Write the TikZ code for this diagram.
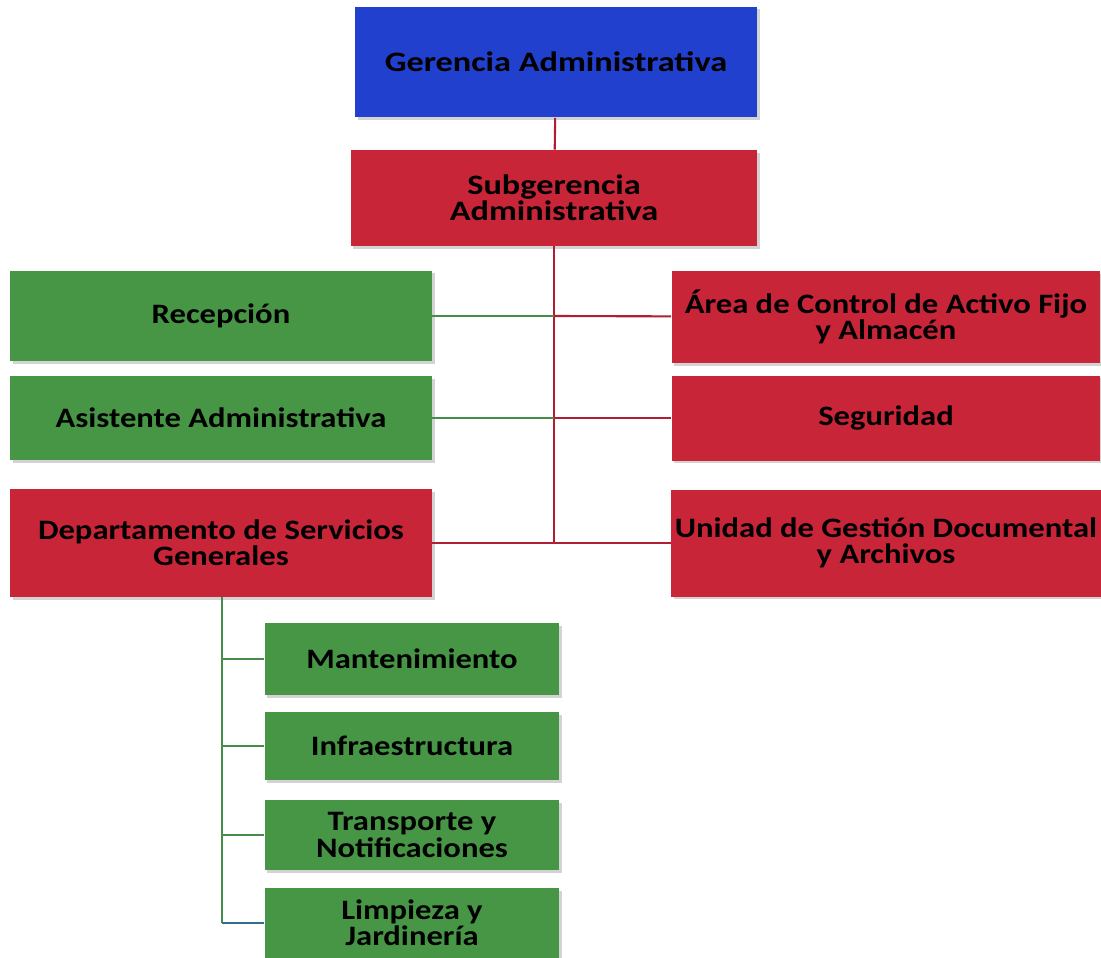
\documentclass[tikz,border=0pt]{standalone}
\usepackage{fontspec}
\setmainfont{Carlito}
\usepackage{tikz}
\usetikzlibrary{shadows}
\definecolor{gerblue}{RGB}{32,64,205}
\definecolor{subred}{RGB}{200,38,56}
\definecolor{boxgreen}{RGB}{70,150,70}
\definecolor{linered}{RGB}{175,30,50}
\definecolor{linegreen}{RGB}{70,140,75}
\definecolor{lineteal}{RGB}{50,110,140}
\tikzset{box/.style = {shape=rectangle, draw=none, inner sep=2pt, align=center,
    font=\fontsize{16}{15}\selectfont\bfseries\addfontfeature{FakeStretch=1.16},
    drop shadow={opacity=0.35, shadow xshift=1.5pt, shadow yshift=-1.5pt}}}
\tikzset{wide/.style = {font=\fontsize{16}{15}\selectfont\bfseries\addfontfeature{FakeStretch=1.22}}}
\tikzset{edge/.style = {line width=1.2pt}}
\begin{document}
\begin{tikzpicture}[x=0.02cm, y=-0.02cm]
                    \useasboundingbox (0,0) rectangle (1101,957);
                    \node[box, wide, fill=gerblue, minimum width=8.04cm, minimum height=2.22cm] (ger) at (556,62) {Gerencia Administrativa};
                    \node[box, wide, fill=subred, minimum width=8.14cm, minimum height=1.92cm] (sub) at (554,198) {Subgerencia\\Administrativa};

                    \node[box, fill=boxgreen, minimum width=8.44cm, minimum height=1.82cm] (rec) at (221,316) {Recepción};
                    \node[box, fill=boxgreen, minimum width=8.44cm, minimum height=1.68cm] (asi) at (221,418) {Asistente Administrativa};
                    \node[box, fill=subred, minimum width=8.44cm, minimum height=2.16cm] (dep) at (221,543) {Departamento de Servicios\\Generales};
                    \node[box, fill=subred, minimum width=8.58cm, minimum height=1.84cm] (are) at (886,317) {Área de Control de Activo Fijo\\y Almacén};
                    \node[box, fill=subred, minimum width=8.58cm, minimum height=1.70cm] (seg) at (886,418) {Seguridad};
                    \node[box, fill=subred, minimum width=8.58cm, minimum height=2.14cm] (uni) at (886,543) {Unidad de Gestión Documental\\y Archivos};

                    \node[box, fill=boxgreen, minimum width=5.9cm, minimum height=1.44cm] (man) at (412,659) {Mantenimiento};
                    \node[box, fill=boxgreen, minimum width=5.9cm, minimum height=1.36cm] (inf) at (412,746) {Infraestructura};
                    \node[box, fill=boxgreen, minimum width=5.9cm, minimum height=1.40cm] (tra) at (412,835) {Transporte y\\Notificaciones};
                    \node[box, fill=boxgreen, minimum width=5.9cm, minimum height=1.40cm] (lim) at (412,923) {Limpieza y\\Jardinería};

                    \coordinate (t1) at (sub.south |- rec.east);
                    \coordinate (t2) at (sub.south |- asi.east);
                    \coordinate (t3) at (sub.south |- dep.east);
                    \coordinate (d0) at (222,923);

                    \draw[edge, linered] (ger) -- (sub);
                    \draw[edge, linered] (sub) -- (t3);
                    \draw[edge, linegreen] (rec) -- (t1);
                    \draw[edge, linered] (t1) -- (are);
                    \draw[edge, linegreen] (asi) -- (t2);
                    \draw[edge, linered] (t2) -- (seg);
                    \draw[edge, linered] (dep) -- (uni);

                    \draw[edge, linegreen] (dep.south -| d0) -- (d0);
                    \draw[edge, linegreen] (d0 |- man.west) -- (man);
                    \draw[edge, linegreen] (d0 |- inf.west) -- (inf);
                    \draw[edge, linegreen] (d0 |- tra.west) -- (tra);
                    \draw[edge, lineteal] (d0) -- (lim);
                \end{tikzpicture}
\end{document}
